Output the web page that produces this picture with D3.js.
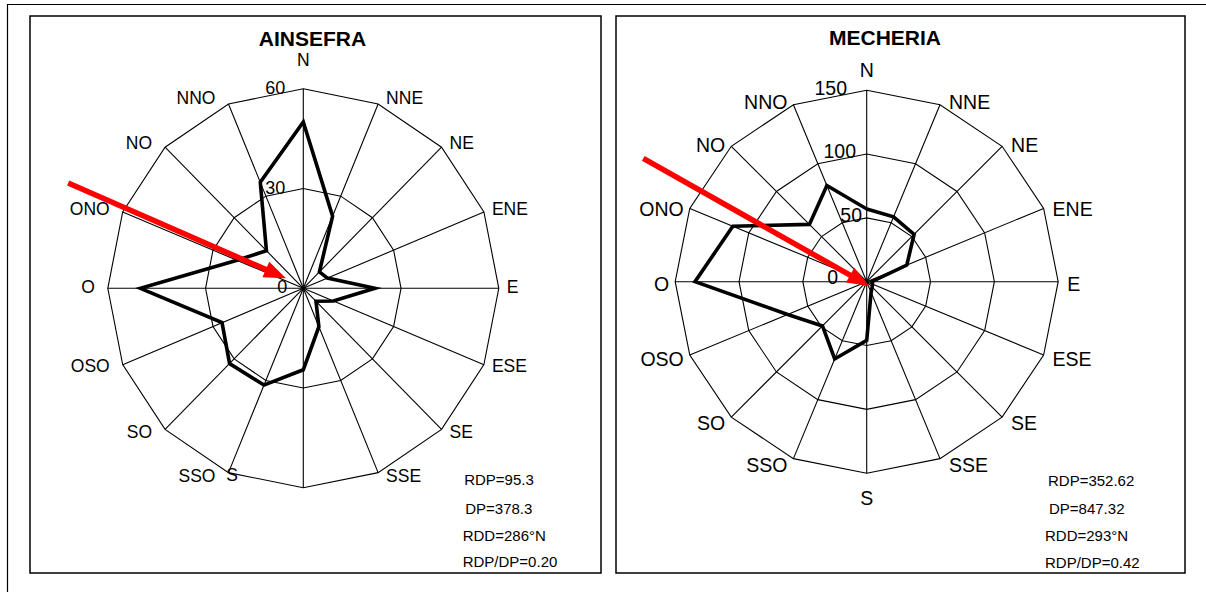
<!DOCTYPE html>
<html>
<head>
<meta charset="utf-8">
<script src="https://cdn.jsdelivr.net/npm/d3@7"></script>
<style>
  html, body { margin: 0; padding: 0; background: #fff; }
  svg { display: block; font-family: "Liberation Sans", Arial, sans-serif; }
</style>
</head>
<body>
<svg id="chart" width="1206" height="592"></svg>
<script>
// ---------- DATA ----------
const directions = ["N","NNE","NE","ENE","E","ESE","SE","SSE","S","SSO","SO","OSO","O","ONO","NO","NNO"];
const ainsefraValues = [50, 23.5, 7, 8, 22, 10, 5.5, 12.5, 24.5, 31.5, 32, 27, 50, 22, 16, 34.5];
const mecheriaValues = [57, 55, 52.5, 34, 4, 5, 6, 9, 46, 65.5, 49, 67, 134.5, 113.5, 63.5, 81.5];
const ainsefraTicks = [0, 30, 60];
const mecheriaTicks = [0, 50, 100, 150];
const ainsefraStats = ["RDP=95.3", "DP=378.3", "RDD=286\u00B0N", "RDP/DP=0.20"];
const mecheriaStats = ["RDP=352.62", "DP=847.32", "RDD=293\u00B0N", "RDP/DP=0.42"];
// resultant drift arrows: [bearing in degrees, value on the radial scale]
const ainsefraArrow = { from: [293.7, 78.8], to: [299.5, 6.1] };
const mecheriaArrow = { from: [298.9, 199.9], to: [148.8, 3.9] };

// ---------- LAYOUT ----------
const svg = d3.select("#chart");

// outer frame lines
svg.append("line").attr("x1", 7).attr("y1", 4.5).attr("x2", 1206).attr("y2", 4.5)
  .attr("stroke", "#000").attr("stroke-width", 1.2);
svg.append("line").attr("x1", 7.5).attr("y1", 4).attr("x2", 7.5).attr("y2", 592)
  .attr("stroke", "#000").attr("stroke-width", 1.2);

const panels = [
  {
    title: "AINSEFRA", values: ainsefraValues, ticks: ainsefraTicks, stats: ainsefraStats, arrow: ainsefraArrow,
    box: [30, 16, 601, 573], cx: 303.3, cy: 288.3, ry: 199.5, rx: 195.5,
    titlePos: [312.5, 38], labelFont: 17.5, tickFont: 18,
    gapR: 8, gapL: 13, dyBase: -1, gapN: 29, gapS: 25,
    labelOverride: { S: [232, 475] },
    tickDx: [-16, -18, -18], tickDy: [-1, -0.5, -1],
    statsX: 462.7, statsDx: [1.5, 2.5, 0, 0], statsY: [479, 508.5, 535, 561]
  },
  {
    title: "MECHERIA", values: mecheriaValues, ticks: mecheriaTicks, stats: mecheriaStats, arrow: mecheriaArrow,
    box: [616, 16, 1185, 573], cx: 866.7, cy: 281.7, ry: 191.5, rx: 191.5,
    titlePos: [885, 37], labelFont: 19.5, tickFont: 19.5,
    gapR: 9, gapL: 6, dyBase: 2, gapN: 20, gapS: 25,
    labelOverride: {},
    tickDx: [-28.7, -4.7, -10.7, -19.7], tickDy: [-4.7, -2.4, -3.5, -2.7],
    statsX: 1045, statsDx: [3, 4, 0, 0], statsY: [480, 508, 535, 562]
  }
];

panels.forEach(p => {
  const g = svg.append("g");
  const max = d3.max(p.ticks);
  const r = d3.scaleLinear().domain([0, max]).range([0, p.ry]);
  const kx = p.rx / p.ry;
  const angle = d3.scaleLinear().domain([0, directions.length]).range([0, 2 * Math.PI]);
  const pt = (a, v) => [p.cx + kx * r(v) * Math.sin(a), p.cy - r(v) * Math.cos(a)];
  const ptDeg = (deg, v) => pt(deg * Math.PI / 180, v);

  // box
  g.append("rect")
    .attr("x", p.box[0]).attr("y", p.box[1])
    .attr("width", p.box[2] - p.box[0]).attr("height", p.box[3] - p.box[1])
    .attr("fill", "#fff").attr("stroke", "#000").attr("stroke-width", 1.5);

  // title
  g.append("text").attr("x", p.titlePos[0]).attr("y", p.titlePos[1])
    .attr("text-anchor", "middle").attr("dominant-baseline", "central")
    .attr("font-size", 21).attr("font-weight", "bold").text(p.title);

  // rings
  const ringLine = d3.line().curve(d3.curveLinearClosed);
  p.ticks.filter(t => t > 0).forEach(t => {
    g.append("path")
      .attr("d", ringLine(directions.map((d, i) => pt(angle(i), t))))
      .attr("fill", "none").attr("stroke", "#000").attr("stroke-width", 1.1);
  });

  // spokes
  directions.forEach((d, i) => {
    const [x, y] = pt(angle(i), max);
    g.append("line").attr("x1", p.cx).attr("y1", p.cy).attr("x2", x).attr("y2", y)
      .attr("stroke", "#000").attr("stroke-width", 1.1);
  });

  // tick labels
  p.ticks.forEach((t, i) => {
    g.append("text")
      .attr("x", p.cx + p.tickDx[i]).attr("y", p.cy - r(t) + p.tickDy[i])
      .attr("text-anchor", "end").attr("dominant-baseline", "central")
      .attr("font-size", p.tickFont).text(t);
  });

  // direction labels
  directions.forEach((d, i) => {
    const a = angle(i);
    const [vx, vy] = pt(a, max);
    const s = Math.sin(a), c = Math.cos(a);
    let x, y, anchor;
    if (Math.abs(s) < 0.01) {
      anchor = "middle"; x = vx;
      y = c > 0 ? vy - p.gapN : vy + p.gapS;
    } else if (s > 0) {
      anchor = "start"; x = vx + p.gapR; y = vy + p.dyBase - 5 * c;
    } else {
      anchor = "end"; x = vx - p.gapL; y = vy + p.dyBase - 5 * c;
    }
    if (p.labelOverride[d]) { [x, y] = p.labelOverride[d]; anchor = "middle"; }
    g.append("text").attr("x", x).attr("y", y)
      .attr("text-anchor", anchor).attr("dominant-baseline", "central")
      .attr("font-size", p.labelFont).text(d);
  });

  // data polygon
  g.append("path")
    .attr("d", ringLine(p.values.map((v, i) => pt(angle(i), v))))
    .attr("fill", "none").attr("stroke", "#000").attr("stroke-width", 3.6)
    .attr("stroke-linejoin", "miter");

  // red arrow
  const [x0, y0] = ptDeg(p.arrow.from[0], p.arrow.from[1]);
  const [x1, y1] = ptDeg(p.arrow.to[0], p.arrow.to[1]);
  const len = Math.hypot(x1 - x0, y1 - y0);
  const ux = (x1 - x0) / len, uy = (y1 - y0) / len;
  const headL = 22, headW = 8.5;
  const bx = x1 - ux * headL, by = y1 - uy * headL;
  g.append("line").attr("x1", x0).attr("y1", y0).attr("x2", bx + ux * 2).attr("y2", by + uy * 2)
    .attr("stroke", "#ff0000").attr("stroke-width", 5.5);
  g.append("path")
    .attr("d", `M${x1},${y1}L${bx - uy * headW},${by + ux * headW}L${bx + uy * headW},${by - ux * headW}Z`)
    .attr("fill", "#ff0000");

  // stats
  p.stats.forEach((s, i) => {
    g.append("text").attr("x", p.statsX + p.statsDx[i]).attr("y", p.statsY[i])
      .attr("dominant-baseline", "central").attr("font-size", 15).text(s);
  });
});
</script>
</body>
</html>
